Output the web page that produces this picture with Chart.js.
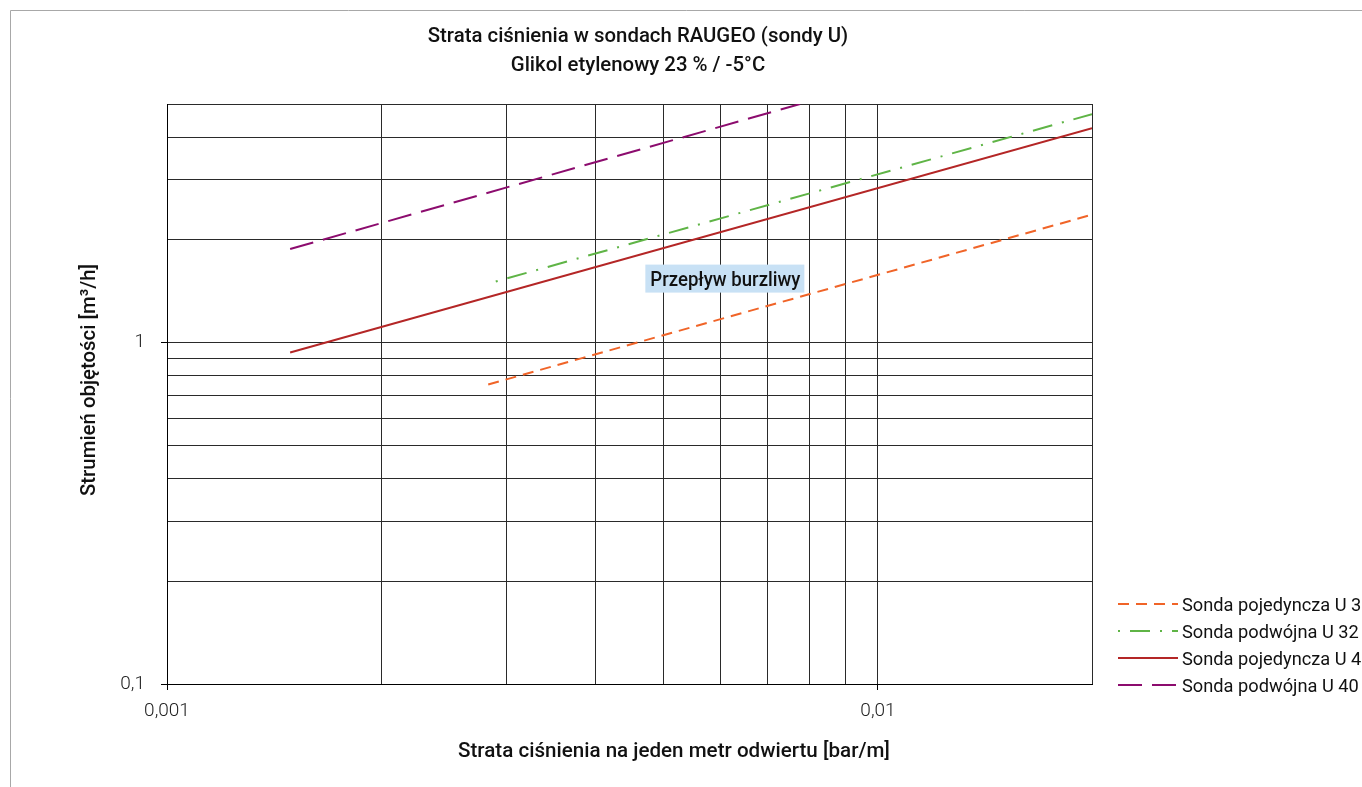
<!DOCTYPE html>
<html>
<head>
<meta charset="utf-8">
<title>Strata ciśnienia w sondach RAUGEO</title>
<script src="https://cdn.jsdelivr.net/npm/chart.js@4/dist/chart.umd.min.js"></script>
<style>
  html, body { margin: 0; padding: 0; background: #fff; overflow: hidden; }
  #wykres { display: block; }
</style>
</head>
<body>
<canvas id="wykres" width="1362" height="787"></canvas>
<script>
// serie: strata ciśnienia [bar/m] -> strumień objętości [m3/h]
var pojU32X = [0.00283, 0.02];
var pojU32Y = [0.754, 2.37];
var podU32X = [0.0029, 0.02];
var podU32Y = [1.51, 4.67];
var pojU40X = [0.00149, 0.02];
var pojU40Y = [0.935, 4.25];
var podU40X = [0.00149, 0.00777];
var podU40Y = [1.88, 5.0];

var nazwy = ['Sonda pojedyncza U 32', 'Sonda podwójna U 32', 'Sonda pojedyncza U 40', 'Sonda podwójna U 40'];

// linie siatki i podpisy osi
var xTicks = [0.001, 0.002, 0.003, 0.004, 0.005, 0.006, 0.007, 0.008, 0.009, 0.01, 0.02];
var yTicks = [0.1, 0.2, 0.3, 0.4, 0.5, 0.6, 0.7, 0.8, 0.9, 1, 2, 3, 4, 5];
var xLabels = { 0.001: '0,001', 0.01: '0,01' };
var yLabels = { 0.1: '0,1', 1: '1' };

var tytul = ['Strata ciśnienia w sondach RAUGEO (sondy U)', 'Glikol etylenowy 23 % / -5°C'];
var tytulX = 'Strata ciśnienia na jeden metr odwiertu [bar/m]';
var tytulY = 'Strumień objętości [m³/h]';
var opis = 'Przepływ burzliwy';
var opisX = 0.0061, opisY = 1.54;

var FONT = "Roboto, 'Noto Sans', sans-serif";

function punkty(xs, ys) {
  var out = [];
  for (var i = 0; i < xs.length; i++) out.push({ x: xs[i], y: ys[i] });
  return out;
}

var zestawy = [
  { label: nazwy[0], data: punkty(pojU32X, pojU32Y), borderColor: 'rgb(240,100,40)', borderDash: [11, 7], borderDashOffset: 0 },
  { label: nazwy[1], data: punkty(podU32X, podU32Y), borderColor: 'rgb(95,180,70)', borderDash: [20, 10, 2, 10], borderDashOffset: 30 },
  { label: nazwy[2], data: punkty(pojU40X, pojU40Y), borderColor: 'rgb(180,38,38)', borderDash: [] },
  { label: nazwy[3], data: punkty(podU40X, podU40Y), borderColor: 'rgb(140,12,110)', borderDash: [24, 10], borderDashOffset: 0 }
];
zestawy.forEach(function (d) {
  d.borderWidth = 2;
  d.pointRadius = 0;
  d.fill = false;
  d.tension = 0;
});

// napis z lekkim ściśnięciem w poziomie
function napis(c, tekst, x, y, kat, scisk) {
  c.save();
  c.translate(x, y);
  if (kat) c.rotate(kat);
  c.scale(scisk || 1, 1);
  c.fillText(tekst, 0, 0);
  c.restore();
}

var teksty = {
  id: 'teksty',
  beforeDraw: function (chart) {
    var c = chart.ctx;
    c.save();
    c.fillStyle = '#fff';
    c.fillRect(0, 0, chart.width, chart.height);
    // ramka
    c.strokeStyle = '#a8a8a8';
    c.lineWidth = 1;
    c.beginPath();
    c.moveTo(10.5, chart.height);
    c.lineTo(10.5, 10.5);
    c.lineTo(chart.width, 10.5);
    c.stroke();
    c.restore();
  },
  afterDatasetsDraw: function (chart) {
    var c = chart.ctx;
    var sx = chart.scales.x, sy = chart.scales.y;
    c.save();
    // etykieta przepływu
    var px = sx.getPixelForValue(opisX), py = sy.getPixelForValue(opisY);
    c.fillStyle = 'rgb(200,225,245)';
    c.fillRect(px - 80, py - 14, 159, 28);
    c.fillStyle = '#111';
    c.font = '500 20px ' + FONT;
    c.textAlign = 'center';
    c.textBaseline = 'alphabetic';
    napis(c, opis, px, py + 7, 0, 0.93);
    c.restore();
  },
  afterDraw: function (chart) {
    var c = chart.ctx;
    c.save();
    c.fillStyle = '#111';
    c.textAlign = 'center';
    c.textBaseline = 'alphabetic';
    c.font = '500 21px ' + FONT;
    napis(c, tytul[0], 638, 42, 0, 0.97);
    napis(c, tytul[1], 638, 71, 0, 0.97);
    napis(c, tytulX, 674, 757, 0, 0.98);
    napis(c, tytulY, 95, 380, -Math.PI / 2, 0.97);

    // legenda
    c.textAlign = 'left';
    c.font = '400 19px ' + FONT;
    chart.data.datasets.forEach(function (d, i) {
      var y = 604 + i * 27;
      c.strokeStyle = d.borderColor;
      c.lineWidth = 2;
      c.setLineDash(d.borderDash || []);
      c.lineDashOffset = d.borderDashOffset || 0;
      c.beginPath();
      c.moveTo(1118, y);
      c.lineTo(1178, y);
      c.stroke();
      c.setLineDash([]);
      c.fillStyle = '#111';
      napis(c, d.label, 1182, y + 7, 0, 0.96);
    });
    c.restore();
  }
};

new Chart(document.getElementById('wykres'), {
  type: 'line',
  data: { datasets: zestawy },
  options: {
    responsive: false,
    animation: false,
    devicePixelRatio: 1,
    layout: { padding: { top: 104, right: 270, bottom: 0, left: 0 } },
    plugins: {
      legend: { display: false },
      title: { display: false },
      tooltip: { enabled: false }
    },
    scales: {
      x: {
        type: 'logarithmic',
        min: 0.001,
        max: 0.02,
        afterBuildTicks: function (s) { s.ticks = xTicks.map(function (v) { return { value: v }; }); },
        afterFit: function (s) { s.height = 103; },
        ticks: {
          autoSkip: false,
          maxRotation: 0,
          padding: 10,
          color: '#222',
          font: { family: 'Roboto', weight: '300', size: 19 },
          callback: function (v) { return xLabels[v] || ''; }
        },
        grid: {
          color: '#2a2a2a',
          lineWidth: 1,
          tickLength: 6,
          tickColor: function (ctx) { return ctx.tick && xLabels[ctx.tick.value] ? '#000' : 'rgba(0,0,0,0)'; }
        },
        border: { display: true, color: '#000', width: 1 }
      },
      y: {
        type: 'logarithmic',
        min: 0.1,
        max: 5,
        afterBuildTicks: function (s) { s.ticks = yTicks.map(function (v) { return { value: v }; }); },
        afterFit: function (s) { s.width = 167; },
        ticks: {
          autoSkip: false,
          padding: 16,
          color: '#222',
          font: { family: 'Roboto', weight: '300', size: 19 },
          callback: function (v) { return yLabels[v] || ''; }
        },
        grid: {
          color: '#2a2a2a',
          lineWidth: 1,
          tickLength: 6,
          tickColor: function (ctx) { return ctx.tick && yLabels[ctx.tick.value] ? '#000' : 'rgba(0,0,0,0)'; }
        },
        border: { display: true, color: '#000', width: 1 }
      }
    }
  },
  plugins: [teksty]
});
</script>
</body>
</html>
